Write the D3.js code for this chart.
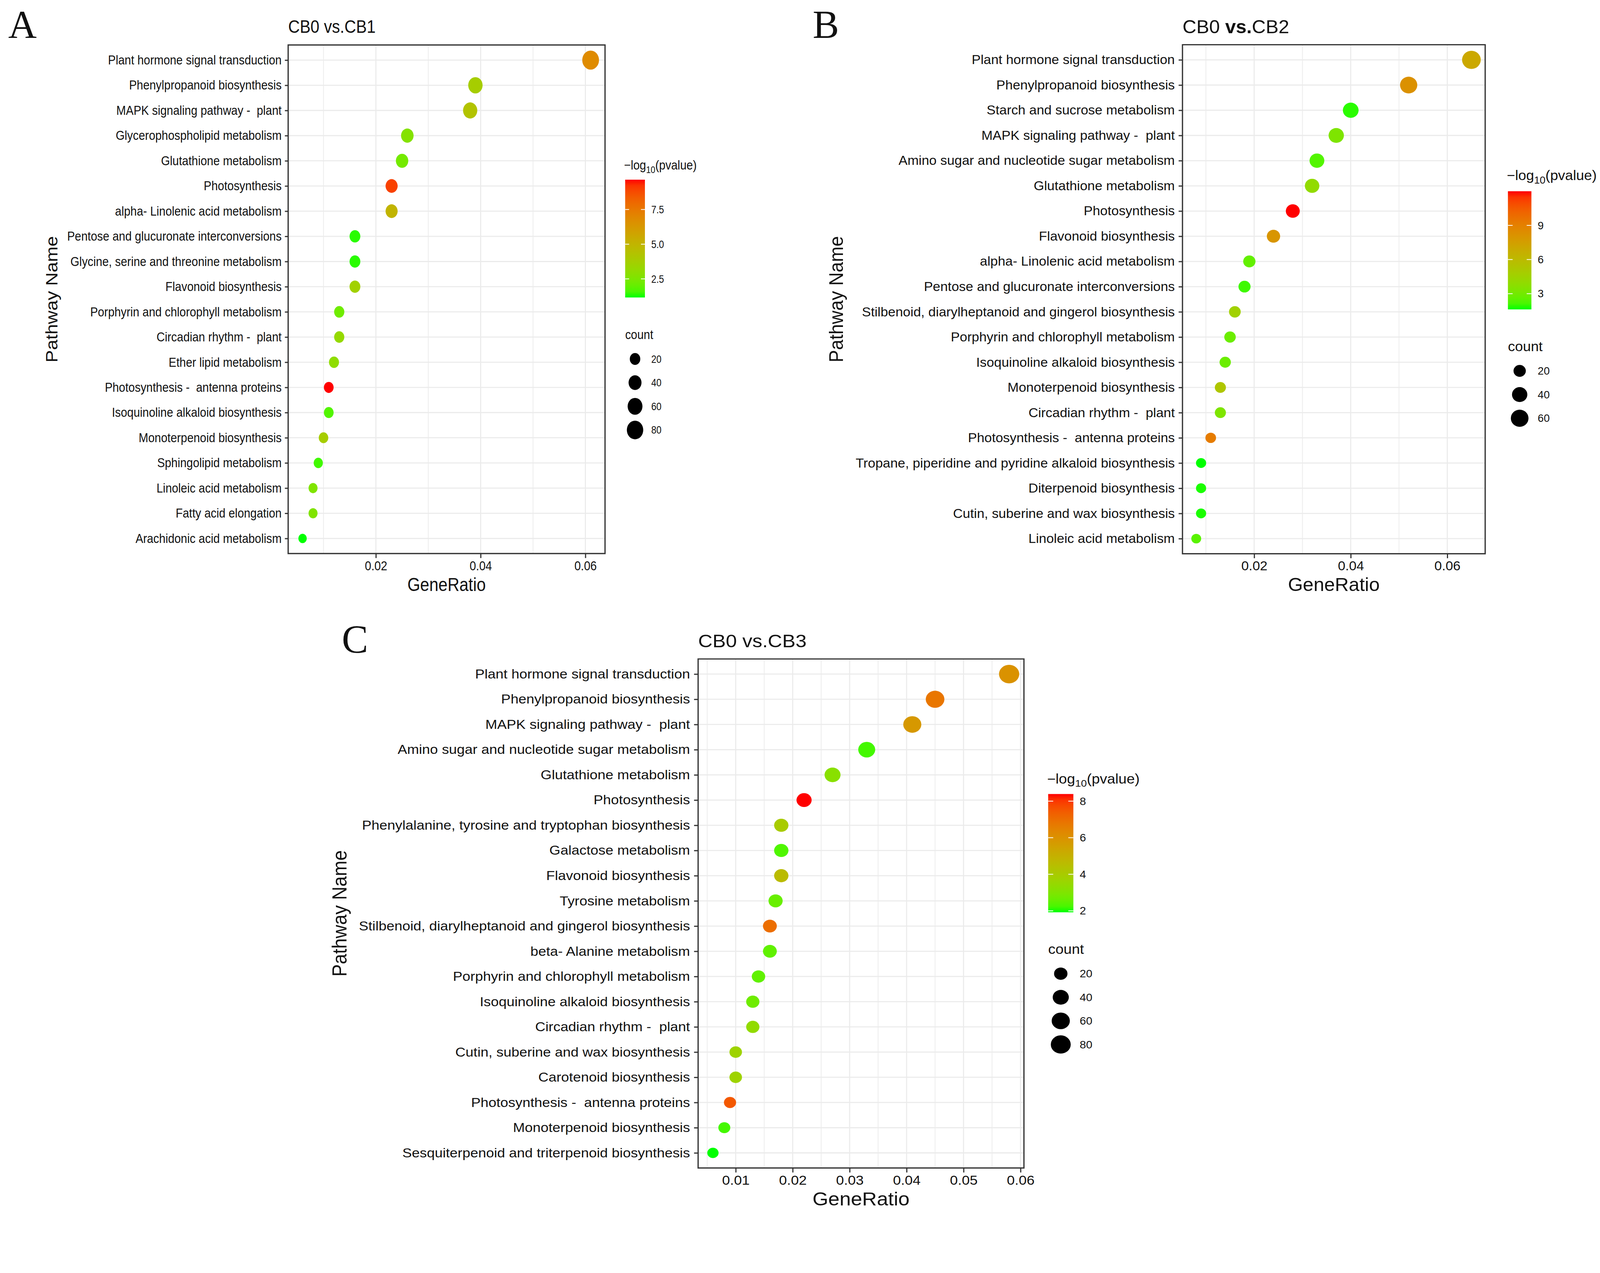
<!DOCTYPE html>
<html><head><meta charset="utf-8">
<script src="https://cdn.jsdelivr.net/npm/d3@7"></script>
<style>
html,body{margin:0;padding:0;background:#fff;overflow:hidden;width:100%;height:100%}
svg{display:block}
text{font-family:"Liberation Sans",Arial,Helvetica,sans-serif;fill:#111}
.letter{font-family:"Liberation Serif","Times New Roman",serif}
</style></head><body>
<svg id="chart" viewBox="0 0 4292 3259" preserveAspectRatio="xMinYMin meet" style="width:100vw;height:100vh"></svg>
<script>
// ---------------- DATA ----------------
const pathwaysA = [
 "Plant hormone signal transduction","Phenylpropanoid biosynthesis","MAPK signaling pathway -  plant",
 "Glycerophospholipid metabolism","Glutathione metabolism","Photosynthesis","alpha- Linolenic acid metabolism",
 "Pentose and glucuronate interconversions","Glycine, serine and threonine metabolism","Flavonoid biosynthesis",
 "Porphyrin and chlorophyll metabolism","Circadian rhythm -  plant","Ether lipid metabolism",
 "Photosynthesis -  antenna proteins","Isoquinoline alkaloid biosynthesis","Monoterpenoid biosynthesis",
 "Sphingolipid metabolism","Linoleic acid metabolism","Fatty acid elongation","Arachidonic acid metabolism"];
const ratioA = [0.061,0.039,0.038,0.026,0.025,0.023,0.023,0.016,0.016,0.016,0.013,0.013,0.012,0.011,0.011,0.010,0.009,0.008,0.008,0.006];
const countA = [85,55,53,36,35,32,32,22,22,22,18,18,17,15,15,14,12,11,11,8];
const logpA  = [6.8,3.8,4.3,2.7,2.3,9.0,5.0,1.3,1.3,3.6,2.2,3.2,3.0,9.65,1.7,3.8,1.5,2.6,2.6,1.16];
const xTicksA = [0.02,0.04,0.06];
const xMinorA = [0.01,0.03,0.05];
const colorTicksA = [2.5,5.0,7.5];
const countBreaksA = [20,40,60,80];

const pathwaysB = [
 "Plant hormone signal transduction","Phenylpropanoid biosynthesis","Starch and sucrose metabolism",
 "MAPK signaling pathway -  plant","Amino sugar and nucleotide sugar metabolism","Glutathione metabolism",
 "Photosynthesis","Flavonoid biosynthesis","alpha- Linolenic acid metabolism","Pentose and glucuronate interconversions",
 "Stilbenoid, diarylheptanoid and gingerol biosynthesis","Porphyrin and chlorophyll metabolism",
 "Isoquinoline alkaloid biosynthesis","Monoterpenoid biosynthesis","Circadian rhythm -  plant",
 "Photosynthesis -  antenna proteins","Tropane, piperidine and pyridine alkaloid biosynthesis",
 "Diterpenoid biosynthesis","Cutin, suberine and wax biosynthesis","Linoleic acid metabolism"];
const ratioB = [0.065,0.052,0.040,0.037,0.033,0.032,0.028,0.024,0.019,0.018,0.016,0.015,0.014,0.013,0.013,0.011,0.009,0.009,0.009,0.008];
const countB = [70,56,43,40,36,34,30,26,20,19,17,16,15,14,14,12,10,10,10,9];
const logpB  = [7.0,8.2,1.8,3.3,2.3,4.0,12.0,8.0,2.6,2.0,4.6,2.8,2.8,5.3,3.3,9.2,1.62,1.7,1.7,2.4];
const xTicksB = [0.02,0.04,0.06];
const xMinorB = [0.01,0.03,0.05];
const colorTicksB = [3,6,9];
const countBreaksB = [20,40,60];

const pathwaysC = [
 "Plant hormone signal transduction","Phenylpropanoid biosynthesis","MAPK signaling pathway -  plant",
 "Amino sugar and nucleotide sugar metabolism","Glutathione metabolism","Photosynthesis",
 "Phenylalanine, tyrosine and tryptophan biosynthesis","Galactose metabolism","Flavonoid biosynthesis",
 "Tyrosine metabolism","Stilbenoid, diarylheptanoid and gingerol biosynthesis","beta- Alanine metabolism",
 "Porphyrin and chlorophyll metabolism","Isoquinoline alkaloid biosynthesis","Circadian rhythm -  plant",
 "Cutin, suberine and wax biosynthesis","Carotenoid biosynthesis","Photosynthesis -  antenna proteins",
 "Monoterpenoid biosynthesis","Sesquiterpenoid and triterpenoid biosynthesis"];
const ratioC = [0.058,0.045,0.041,0.033,0.027,0.022,0.018,0.018,0.018,0.017,0.016,0.016,0.014,0.013,0.013,0.010,0.010,0.009,0.008,0.006];
const countC = [84,65,59,48,39,32,26,26,26,25,23,23,20,19,19,15,15,13,12,9];
const logpC  = [6.0,6.8,5.8,2.2,3.2,8.39,4.0,2.3,4.6,2.6,7.0,2.5,2.5,2.7,3.4,3.7,3.7,7.5,2.2,1.92];
const xTicksC = [0.01,0.02,0.03,0.04,0.05,0.06];
const xMinorC = [0.005,0.015,0.025,0.035,0.045,0.055];
const colorTicksC = [2,4,6,8];
const countBreaksC = [20,40,60,80];

// ---------------- LAYOUT (pixels) ----------------
const layoutA = {sx:0.88, left:773, right:1623, top:120.7, bottom:1485, titleY:88, titleSize:49,
  letter:"A", letterX:22, letterY:102, ylabX:154, cbX:1677, cbW:53, cbTop:482, cbBottom:798, cbTitleY:455,
  legTitleSize:35, countTitleY:910, circY0:963, circStep:63.5, sizeDomain:[20,80], sizeRange:[16,25]};
const layoutB = {sx:1.03, left:3172, right:3984, top:120, bottom:1485.5, titleY:89, titleSize:50,
  letter:"B", letterX:2180, letterY:102, ylabX:2261, cbX:4045, cbW:63, cbTop:513, cbBottom:830, cbTitleY:483,
  legTitleSize:37, countTitleY:942, circY0:995, circStep:63.5, sizeDomain:[20,60], sizeRange:[16,23]};
const layoutC = {sx:1.09, left:1872.7, right:2746.7, top:1767.7, bottom:3133.3, titleY:1736.7, titleSize:49,
  letter:"C", letterX:917, letterY:1751, ylabX:929, cbX:2811.7, cbW:67.6, cbTop:2130, cbBottom:2447.3, cbTitleY:2101.7,
  legTitleSize:36, countTitleY:2559, circY0:2612, circStep:63.3, sizeDomain:[20,80], sizeRange:[16.5,24.5]};

const svg = d3.select("#chart");
svg.append("rect").attr("width",4292).attr("height",3259).attr("fill","#fff");
const defs = svg.append("defs");

function drawPanel(id, names, ratio, count, logp, xTicks, xMinor, colorTicks, colorFmt, countBreaks, titleParts, L){
  const sx = L.sx;
  const g = svg.append("g").attr("transform",`translate(${L.left},0) scale(${sx},1)`);
  const W = (L.right - L.left)/sx;
  const data = names.map((n,i)=>({name:n, ratio:ratio[i], count:count[i], p:logp[i]}));

  const [xmin,xmax] = d3.extent(ratio); const pad = (xmax-xmin)*0.05;
  const x = d3.scaleLinear().domain([xmin-pad, xmax+pad]).range([0,W]);
  const y = d3.scalePoint().domain(names).range([L.top, L.bottom]).padding(0.6);
  const cDom = d3.extent(logp);
  const color = d3.scaleLinear().domain(cDom).range(["#00FF00","#FF0000"]).interpolate(d3.interpolateLab);
  const size = d3.scaleSqrt().domain(L.sizeDomain).range(L.sizeRange);

  // grid
  g.selectAll("line.minor").data(xMinor).join("line").attr("class","minor")
    .attr("x1",d=>x(d)).attr("x2",d=>x(d)).attr("y1",L.top).attr("y2",L.bottom)
    .attr("stroke","#EEEEEE").attr("stroke-width",2.2).attr("vector-effect","non-scaling-stroke");
  g.selectAll("line.majx").data(xTicks).join("line").attr("class","majx")
    .attr("x1",d=>x(d)).attr("x2",d=>x(d)).attr("y1",L.top).attr("y2",L.bottom)
    .attr("stroke","#EBEBEB").attr("stroke-width",2.8).attr("vector-effect","non-scaling-stroke");
  g.selectAll("line.majy").data(names).join("line").attr("class","majy")
    .attr("x1",0).attr("x2",W).attr("y1",d=>y(d)).attr("y2",d=>y(d))
    .attr("stroke","#EBEBEB").attr("stroke-width",2.8).attr("vector-effect","non-scaling-stroke");

  // points
  g.selectAll("circle.dot").data(data).join("circle").attr("class","dot")
    .attr("cx",d=>x(d.ratio)).attr("cy",d=>y(d.name)).attr("r",d=>size(d.count))
    .attr("fill",d=>color(d.p));

  // border
  g.append("rect").attr("x",0).attr("y",L.top).attr("width",W).attr("height",L.bottom-L.top)
    .attr("fill","none").attr("stroke","#333").attr("stroke-width",3.2).attr("vector-effect","non-scaling-stroke");

  // x axis
  const gx = g.append("g").attr("transform",`translate(0,${L.bottom})`)
    .call(d3.axisBottom(x).tickValues(xTicks).tickFormat(d3.format(".2f")).tickSize(12).tickPadding(8));
  gx.select(".domain").remove();
  gx.selectAll(".tick line").attr("stroke","#333").attr("stroke-width",3).attr("vector-effect","non-scaling-stroke");
  gx.selectAll(".tick text").attr("font-size",35).attr("fill","#111");

  // y axis
  const gy = g.append("g").call(d3.axisLeft(y).tickSize(10).tickPadding(10));
  gy.select(".domain").remove();
  gy.selectAll(".tick line").attr("stroke","#333").attr("stroke-width",3).attr("vector-effect","non-scaling-stroke");
  gy.selectAll(".tick text").attr("font-size",35).attr("fill","#111").style("white-space","pre");

  // title
  const t = g.append("text").attr("x",0).attr("y",L.titleY).attr("font-size",L.titleSize).style("white-space","pre");
  titleParts.forEach(tp=>t.append("tspan").text(tp.t).attr("font-weight",tp.b?"bold":"normal"));

  // axis titles
  g.append("text").attr("x",W/2).attr("y",L.bottom+100).attr("text-anchor","middle")
    .attr("font-size",50).text("GeneRatio");
  g.append("text").attr("transform",`translate(${(L.ylabX-L.left)/sx},${(L.top+L.bottom)/2}) rotate(-90)`)
    .attr("text-anchor","middle").attr("font-size",50).text("Pathway Name");

  // colour legend
  const cbX = (L.cbX-L.left)/sx, cbW = L.cbW/sx;
  const grad = defs.append("linearGradient").attr("id","grad"+id)
    .attr("x1",0).attr("y1",1).attr("x2",0).attr("y2",0);
  grad.selectAll("stop").data(d3.range(0,1.0001,0.05)).join("stop")
    .attr("offset",d=>d).attr("stop-color",d=>color(cDom[0]+d*(cDom[1]-cDom[0])));
  const cy = d3.scaleLinear().domain(cDom).range([L.cbBottom, L.cbTop]);
  g.append("rect").attr("x",cbX).attr("y",L.cbTop).attr("width",cbW).attr("height",L.cbBottom-L.cbTop)
    .attr("fill",`url(#grad${id})`);
  const ct = g.selectAll("g.ctick").data(colorTicks).join("g").attr("class","ctick");
  ct.append("line").attr("x1",cbX).attr("x2",cbX+cbW*0.2).attr("y1",d=>cy(d)).attr("y2",d=>cy(d))
    .attr("stroke","#fff").attr("stroke-width",2).attr("vector-effect","non-scaling-stroke");
  ct.append("line").attr("x1",cbX+cbW*0.8).attr("x2",cbX+cbW).attr("y1",d=>cy(d)).attr("y2",d=>cy(d))
    .attr("stroke","#fff").attr("stroke-width",2).attr("vector-effect","non-scaling-stroke");
  ct.append("text").attr("x",cbX+cbW+17/sx).attr("y",d=>cy(d)).attr("dy","0.36em")
    .attr("font-size",28).text(d=>d3.format(colorFmt)(d));
  const lt = g.append("text").attr("x",cbX-3/sx).attr("y",L.cbTitleY).attr("font-size",L.legTitleSize);
  lt.append("tspan").text("\u2212log");
  lt.append("tspan").text("10").attr("font-size",L.legTitleSize*0.72).attr("dy",L.legTitleSize*0.25);
  lt.append("tspan").text("(pvalue)").attr("dy",-L.legTitleSize*0.25);

  // size legend
  g.append("text").attr("x",cbX).attr("y",L.countTitleY).attr("font-size",L.legTitleSize).text("count");
  const sl = g.selectAll("g.sleg").data(countBreaks).join("g").attr("class","sleg");
  sl.append("circle").attr("cx",cbX+cbW/2).attr("cy",(d,i)=>L.circY0+i*L.circStep).attr("r",d=>size(d)).attr("fill","#000");
  sl.append("text").attr("x",cbX+cbW+17/sx).attr("y",(d,i)=>L.circY0+i*L.circStep).attr("dy","0.36em")
    .attr("font-size",28).text(d=>d);

  // panel letter
  svg.append("text").attr("class","letter").attr("x",L.letterX).attr("y",L.letterY)
    .attr("font-size",106).attr("fill","#000").text(L.letter);
}

drawPanel("A", pathwaysA, ratioA, countA, logpA, xTicksA, xMinorA, colorTicksA, ".1f", countBreaksA,
  [{t:"CB0 vs.CB1"}], layoutA);
drawPanel("B", pathwaysB, ratioB, countB, logpB, xTicksB, xMinorB, colorTicksB, "d", countBreaksB,
  [{t:"CB0 "},{t:"vs.",b:true},{t:"CB2"}], layoutB);
drawPanel("C", pathwaysC, ratioC, countC, logpC, xTicksC, xMinorC, colorTicksC, "d", countBreaksC,
  [{t:"CB0 vs.CB3"}], layoutC);
</script>
</body></html>
